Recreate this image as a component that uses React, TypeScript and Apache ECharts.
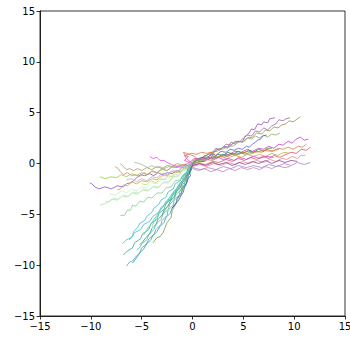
import React, { useEffect, useRef } from "react";
import * as echarts from "echarts";

const xTicks = [-15, -10, -5, 0, 5, 10, 15];
const yTicks = [-15, -10, -5, 0, 5, 10, 15];

// Right-going walks
const r1 = [[0,0.2],[0.4,0.5],[0.8,0.4],[1.2,0.8],[1.6,0.7],[2.0,1.1],[2.3,1.5],[2.7,1.3],[3.1,1.7],[3.5,1.6],[3.8,2.1],[4.2,1.9],[4.5,2.2],[4.9,2.1],[5.2,2.7],[5.5,2.9],[5.8,3.4],[6.1,3.3],[6.4,3.9],[6.8,3.8],[7.0,4.1],[7.4,4.0],[7.6,4.4],[8.1,4.5]];
const r2 = [[0,0],[0.5,0.5],[1.0,0.4],[1.5,0.9],[2.0,1.0],[2.4,1.4],[2.9,1.5],[3.3,1.9],[3.8,1.8],[4.2,2.2],[4.6,2.1],[5.0,2.5],[5.4,2.8],[5.8,2.7],[6.2,3.2],[6.6,3.1],[7.0,3.5],[7.4,3.3],[7.8,3.7],[8.2,3.9],[8.5,4.3],[8.9,4.2],[9.2,4.4],[9.6,4.5]];
const r3 = [[0,0.1],[0.6,0.5],[1.2,0.7],[1.8,1.1],[2.4,1.2],[3.0,1.6],[3.5,1.5],[4.0,2.0],[4.5,2.2],[5.0,2.1],[5.4,2.5],[5.9,2.6],[6.3,3.0],[6.8,2.9],[7.2,3.3],[7.6,3.2],[8.0,3.6],[8.4,3.5],[8.8,3.8],[9.2,3.9],[9.5,4.2],[9.9,4.1],[10.2,4.3],[10.6,4.6]];
const r4 = [[0,0],[0.5,0.4],[1.0,0.5],[1.5,0.9],[2.1,1.1],[2.5,1.4],[3.0,1.4],[3.5,1.7],[4.0,1.7],[4.5,2.1],[5.0,2.2],[5.4,2.5],[5.8,2.4],[6.2,2.7],[6.6,2.5],[7.0,2.8],[7.4,2.6],[7.8,2.9],[8.2,2.8],[8.6,3.0]];
const r5 = [[0,0],[0.4,0.3],[0.9,0.6],[1.4,0.5],[1.9,0.9],[2.3,0.8],[2.8,1.2],[3.3,1.1],[3.7,1.4],[4.1,1.3],[4.5,1.5],[4.9,1.4],[5.3,1.7],[5.6,1.6],[5.9,1.9],[6.2,2.1],[6.4,2.3],[6.7,2.4],[6.9,2.7],[7.3,2.8]];
const r6 = [[0,-0.1],[0.6,0.2],[1.2,0.2],[1.8,0.6],[2.4,0.6],[3.0,0.9],[3.6,0.9],[4.2,1.2],[4.8,1.1],[5.4,1.4],[5.9,1.2],[6.5,1.5],[7.0,1.4],[7.5,1.7],[8.0,1.5],[8.5,1.9],[8.9,1.8],[9.4,2.2],[9.8,2.0],[10.2,2.4],[10.6,2.6],[11.0,2.3],[11.4,2.4]];
const r7 = [[0,0],[0.7,0.1],[1.3,0.4],[2.0,0.3],[2.6,0.7],[3.2,0.6],[3.8,1.0],[4.4,0.9],[5.0,1.1],[5.6,0.9],[6.2,1.2],[6.8,1.1],[7.3,1.4],[7.9,1.2],[8.4,1.5],[8.9,1.4],[9.4,1.6],[9.9,1.4],[10.4,1.7],[10.8,1.6],[11.2,1.9]];
const r8 = [[0,-0.2],[0.7,0.0],[1.3,-0.1],[2.0,0.2],[2.6,0.1],[3.3,0.4],[3.9,0.2],[4.5,0.5],[5.1,0.3],[5.7,0.6],[6.3,0.4],[6.9,0.7],[7.5,0.5],[8.0,0.8],[8.6,0.6],[9.2,0.9],[9.7,1.1],[10.2,1.0],[10.7,1.4],[11.2,1.3],[11.6,1.6]];
const r9 = [[0,-0.3],[0.7,-0.1],[1.4,-0.3],[2.1,0.0],[2.8,-0.2],[3.5,0.1],[4.2,-0.1],[4.9,0.2],[5.6,0.0],[6.3,0.3],[7.0,0.1],[7.6,0.4],[8.2,0.2],[8.8,0.5],[9.3,0.4],[9.8,0.7],[10.3,0.5],[10.7,0.8],[11.1,0.8]];
const r10 = [[0,-0.4],[0.8,-0.6],[1.5,-0.4],[2.3,-0.6],[3.0,-0.3],[3.8,-0.5],[4.5,-0.2],[5.3,-0.4],[6.0,-0.2],[6.8,-0.4],[7.5,-0.1],[8.3,-0.3],[9.0,0.0],[9.7,-0.2],[10.3,0.1],[11.0,-0.1],[11.6,0.1]];
const r11 = [[0,-0.2],[0.7,0.0],[1.3,-0.2],[2.0,0.1],[2.6,-0.1],[3.3,0.1],[3.9,-0.2],[4.6,0.1],[5.2,-0.1],[5.9,0.2],[6.5,0.0],[7.2,0.3],[7.8,0.0],[8.5,0.3],[9.1,0.1],[9.7,0.3],[10.3,0.2]];
const r12 = [[0,0],[0.5,0.3],[1.0,0.2],[1.5,0.6],[2.0,0.5],[2.5,0.9],[3.0,0.8],[3.5,1.1],[4.0,0.9],[4.5,1.2],[5.0,1.0],[5.5,1.3],[6.0,1.1],[6.5,1.4],[7.0,1.2],[7.4,1.5],[7.8,1.5]];
const r13 = [[0,0.3],[0.6,0.4],[1.2,0.3],[1.8,0.6],[2.4,0.5],[3.0,0.8],[3.6,0.6],[4.2,0.8],[4.8,0.6],[5.4,0.9],[6.0,0.7],[6.6,0.9],[7.2,0.7],[7.8,1.0],[8.4,0.8],[9.0,1.1],[9.5,1.0]];
const r14 = [[0,-0.5],[0.6,-0.7],[1.2,-0.5],[1.8,-0.8],[2.4,-0.6],[3.0,-0.8],[3.6,-0.5],[4.2,-0.7],[4.8,-0.4],[5.4,-0.6],[6.0,-0.4],[6.6,-0.6],[7.2,-0.3],[7.8,-0.5],[8.4,-0.2],[9.0,-0.4],[9.6,-0.3]];
const r15 = [[0.5,0.3],[0.2,0.7],[-0.3,0.9],[-0.9,1.1],[-0.7,0.8],[-0.1,1.0],[0.4,0.9],[0.9,1.1],[1.4,1.0],[1.9,1.1],[2.2,0.9],[1.8,0.7],[2.3,0.6],[2.8,0.7],[3.4,0.8],[4.0,0.9],[4.7,1.0],[5.5,1.2],[6.2,1.1],[7.0,1.3],[7.7,1.2],[8.5,1.4]];
const r16 = [[0,0],[0.4,0.3],[0.8,0.2],[1.2,0.5],[1.6,0.4],[2.1,0.7],[2.5,0.6],[3.0,0.9],[3.4,0.7],[3.9,0.9],[4.3,0.8],[4.8,1.0],[5.2,0.9],[5.6,1.1],[6.0,1.0]];
const r17 = [[0,0],[-0.5,0.4],[-0.8,0.8],[-0.4,0.7],[-0.8,0.3],[-0.3,0.1],[0.2,0.5],[0.8,0.4],[1.5,0.6],[2.0,0.4],[2.5,0.6],[3.0,0.4],[3.5,0.5],[4.1,0.3],[4.6,0.6],[5.3,0.4],[6.0,0.7],[6.6,0.5],[7.2,0.7],[8.0,0.6]];

// Left, shallow walks
const l1 = [[0,-0.3],[-0.4,-0.5],[-0.8,-0.4],[-1.2,-0.8],[-1.6,-0.7],[-2.0,-1.0],[-2.5,-0.9],[-3.0,-1.1],[-3.4,-0.9],[-3.8,-1.2],[-4.2,-1.0],[-4.7,-1.2],[-5.1,-1.1],[-5.5,-1.4],[-5.8,-1.7],[-6.1,-1.9],[-6.5,-2.0],[-6.8,-2.3],[-7.4,-2.2],[-8.0,-2.5],[-8.6,-2.3],[-9.2,-2.5],[-9.6,-2.3],[-9.9,-2.0],[-10.1,-1.9]];
const l2 = [[0,0],[-0.5,-0.2],[-1.0,-0.1],[-1.5,-0.4],[-2.0,-0.3],[-2.5,-0.7],[-3.0,-0.6],[-3.5,-0.9],[-4.0,-0.8],[-4.5,-1.1],[-5.0,-0.9],[-5.5,-1.2],[-6.0,-1.0],[-6.5,-1.3],[-7.0,-1.1],[-7.5,-1.4],[-8.0,-1.3],[-8.6,-1.5],[-9.1,-1.3]];
const l3 = [[0,0],[-0.5,-0.3],[-1.0,-0.1],[-1.5,-0.4],[-2.0,-0.3],[-2.5,-0.7],[-3.0,-0.5],[-3.5,-0.9],[-4.0,-0.7],[-4.4,-1.1],[-4.8,-0.9],[-5.2,-1.3],[-5.6,-1.1],[-6.0,-1.2],[-6.4,-0.9],[-6.8,-1.1],[-7.1,-0.8],[-7.3,-0.5],[-7.6,-0.3]];
const l4 = [[0,0.1],[-0.5,0.0],[-1.0,-0.2],[-1.5,0.0],[-2.0,-0.3],[-2.5,-0.2],[-3.0,-0.5],[-3.5,-0.3],[-4.0,-0.6],[-4.5,-0.4],[-5.0,-0.7],[-5.4,-0.5],[-5.8,-0.7],[-6.2,-0.5],[-6.5,-0.6],[-6.8,-0.3],[-7.1,0.0]];
const l5 = [[0,0],[-0.5,-0.2],[-0.9,-0.4],[-1.4,-0.2],[-1.8,-0.4],[-2.3,-0.3],[-2.8,-0.5],[-3.2,-0.3],[-3.6,-0.4],[-4.0,-0.2],[-4.4,-0.4],[-4.8,-0.2],[-5.2,0.0],[-5.7,0.1]];
const l6 = [[0,0],[-0.4,-0.2],[-0.7,-0.1],[-1.1,-0.4],[-1.4,-0.3],[-1.8,-0.2],[-2.1,-0.1],[-2.5,0.1],[-2.8,0.3],[-3.2,0.3],[-3.5,0.6],[-3.9,0.5],[-4.2,0.7]];
const l7 = [[0,-0.2],[-0.5,-0.5],[-1.0,-0.4],[-1.5,-0.9],[-2.0,-0.8],[-2.5,-1.2],[-3.0,-1.2],[-3.5,-1.6],[-4.0,-1.5],[-4.5,-1.8],[-5.0,-1.7],[-5.5,-2.0],[-6.0,-1.8],[-6.4,-2.2],[-6.8,-2.1],[-7.1,-2.5],[-7.4,-2.6]];
const l8 = [[0,0],[-0.4,-0.5],[-0.9,-0.6],[-1.4,-1.2],[-1.9,-1.3],[-2.4,-1.9],[-2.9,-1.9],[-3.4,-2.4],[-3.9,-2.3],[-4.4,-2.7],[-4.9,-2.6],[-5.4,-3.0],[-5.9,-2.9],[-6.4,-3.3],[-6.9,-3.2],[-7.4,-3.6],[-7.9,-3.5],[-8.5,-3.9],[-9.1,-4.1]];
const l9 = [[0,-0.2],[-0.5,-0.6],[-0.9,-0.7],[-1.4,-1.3],[-1.8,-1.3],[-2.3,-1.8],[-2.8,-1.8],[-3.3,-2.3],[-3.8,-2.2],[-4.3,-2.6],[-4.8,-2.5],[-5.3,-2.9],[-5.8,-2.8],[-6.3,-3.2],[-6.8,-3.1],[-7.3,-3.5],[-7.8,-3.4],[-8.2,-3.8],[-8.6,-3.7]];
const l10 = [[0,-0.3],[-0.4,-0.8],[-0.8,-1.0],[-1.2,-1.6],[-1.7,-1.7],[-2.1,-2.3],[-2.6,-2.4],[-3.0,-2.9],[-3.5,-2.9],[-4.0,-3.4],[-4.4,-3.3],[-4.8,-3.8],[-5.2,-3.7],[-5.6,-4.2],[-5.9,-4.1],[-6.1,-4.6],[-6.4,-4.6],[-6.7,-5.1],[-7.1,-5.1]];
const l11 = [[0,-0.1],[-0.5,-0.5],[-1.0,-0.6],[-1.5,-1.1],[-2.0,-1.1],[-2.5,-1.6],[-3.0,-1.5],[-3.5,-2.0],[-4.0,-1.9],[-4.5,-2.4],[-5.0,-2.3],[-5.5,-2.7],[-6.0,-2.5],[-6.5,-2.9],[-7.0,-2.7],[-7.6,-3.1],[-8.2,-3.0]];
const l12 = [[0,0],[-0.5,-0.4],[-1.0,-0.3],[-1.5,-0.8],[-2.0,-0.7],[-2.5,-1.1],[-3.0,-1.0],[-3.5,-1.4],[-4.0,-1.3],[-4.5,-1.7],[-5.0,-1.5],[-5.5,-1.8],[-6.0,-1.5],[-6.5,-1.6]];
const l13 = [[0,-0.1],[-0.4,-0.5],[-0.8,-0.4],[-1.2,-0.9],[-1.6,-0.8],[-2.0,-1.3],[-2.4,-1.2],[-2.8,-1.6],[-3.2,-1.5],[-3.6,-1.9],[-4.1,-1.7],[-4.5,-2.1],[-5.0,-2.0]];

// Steep, down-left walks
const s1 = [[0,0],[-0.4,-0.5],[-0.3,-1.0],[-0.7,-1.5],[-0.8,-2.1],[-1.2,-2.6],[-1.3,-3.1],[-1.8,-3.6],[-1.9,-4.1],[-2.4,-4.6],[-2.5,-5.1],[-3.0,-5.6],[-3.1,-6.0],[-3.6,-6.5],[-3.8,-7.0],[-4.3,-7.4],[-4.5,-7.9],[-5.0,-8.3],[-5.2,-8.8],[-5.6,-9.2],[-5.9,-9.6],[-6.2,-9.7],[-6.5,-10.1]];
const s2 = [[0,-0.2],[-0.5,-0.6],[-0.5,-1.1],[-1.0,-1.6],[-1.1,-2.1],[-1.6,-2.5],[-1.8,-3.0],[-2.3,-3.4],[-2.5,-3.9],[-3.1,-4.3],[-3.3,-4.8],[-3.9,-5.2],[-4.2,-5.7],[-4.8,-6.0],[-5.1,-6.5],[-5.7,-6.8],[-6.0,-7.3],[-6.5,-7.5],[-6.9,-7.9]];
const s3 = [[0,0],[-0.2,-0.5],[-0.6,-0.9],[-0.8,-1.5],[-1.2,-1.9],[-1.4,-2.5],[-1.9,-2.9],[-2.1,-3.5],[-2.6,-3.9],[-2.8,-4.5],[-3.3,-4.9],[-3.5,-5.5],[-4.1,-5.9],[-4.3,-6.5],[-4.9,-6.9],[-5.1,-7.4],[-5.7,-7.8],[-5.9,-8.3],[-6.4,-8.6],[-6.8,-9.0]];
const s4 = [[0,-0.1],[-0.1,-0.6],[-0.5,-1.1],[-0.6,-1.6],[-1.0,-2.1],[-1.1,-2.6],[-1.6,-3.0],[-1.8,-3.5],[-2.2,-4.0],[-2.4,-4.5],[-2.9,-5.0],[-3.1,-5.5],[-3.6,-6.0],[-3.8,-6.5],[-4.3,-7.0],[-4.5,-7.5],[-5.0,-7.9],[-5.2,-8.3],[-5.5,-8.5]];
const s5 = [[0,0],[-0.1,-0.6],[-0.4,-1.2],[-0.5,-1.8],[-0.9,-2.4],[-1.1,-2.9],[-1.5,-3.4],[-1.6,-3.9],[-2.0,-4.4],[-2.2,-4.9],[-2.6,-5.3],[-2.8,-5.8],[-3.2,-6.2],[-3.5,-6.7],[-3.9,-7.1],[-4.1,-7.5],[-4.5,-7.9],[-4.8,-8.4],[-5.1,-8.7],[-5.4,-9.1],[-5.6,-9.4],[-5.9,-9.8]];
const s6 = [[0,-0.2],[-0.2,-0.8],[-0.5,-1.2],[-0.6,-1.9],[-1.0,-2.4],[-1.1,-3.0],[-1.5,-3.5],[-1.7,-4.1],[-2.0,-4.6],[-2.1,-5.3],[-2.5,-5.8],[-2.7,-6.3],[-2.9,-6.8],[-3.2,-7.2],[-3.5,-7.3],[-3.9,-7.8]];
const s7 = [[0,0],[-0.1,-0.4],[-0.3,-0.8],[-0.2,-1.2],[-0.5,-1.6],[-0.6,-2.0],[-0.8,-2.4],[-0.9,-2.8],[-1.1,-3.1],[-1.3,-3.5],[-1.5,-3.8],[-1.8,-4.1],[-2.0,-4.4]];
const s8 = [[0,0],[-0.3,-0.4],[-0.5,-0.9],[-0.9,-1.3],[-1.0,-1.8],[-1.4,-2.2],[-1.6,-2.7],[-2.0,-3.1],[-2.2,-3.5],[-2.7,-3.9],[-2.9,-4.3],[-3.3,-4.7],[-3.5,-5.1],[-3.8,-5.5],[-4.0,-5.9],[-4.3,-6.2],[-4.5,-6.5],[-4.8,-7.0]];
const s9 = [[0,-0.1],[-0.4,-0.4],[-0.5,-0.9],[-0.9,-1.2],[-1.0,-1.7],[-1.4,-2.1],[-1.6,-2.5],[-2.0,-2.9],[-2.2,-3.3],[-2.6,-3.7],[-2.8,-4.1],[-3.1,-4.5],[-3.3,-4.9],[-3.5,-5.3],[-3.7,-5.6],[-4.0,-6.2]];
const s10 = [[0,0],[-0.4,-0.4],[-0.6,-0.9],[-1.0,-1.2],[-1.2,-1.7],[-1.7,-2.0],[-1.9,-2.5],[-2.4,-2.8],[-2.6,-3.3],[-3.1,-3.6],[-3.3,-4.0],[-3.8,-4.4],[-4.0,-4.8],[-4.5,-5.2],[-4.7,-5.6],[-5.2,-5.9],[-5.4,-6.3],[-5.8,-6.7],[-5.9,-7.1],[-6.2,-7.5]];
const s11 = [[0,0],[-0.3,-0.4],[-0.4,-0.8],[-0.7,-1.2],[-0.8,-1.6],[-1.1,-2.0],[-1.3,-2.4],[-1.6,-2.8],[-1.8,-3.2],[-2.1,-3.6],[-2.3,-4.0],[-2.6,-4.4],[-2.8,-4.8],[-3.0,-5.2]];
const s12 = [[0,-0.1],[-0.2,-0.6],[-0.5,-1.0],[-0.7,-1.5],[-1.0,-1.9],[-1.2,-2.4],[-1.6,-2.8],[-1.8,-3.3],[-2.2,-3.7],[-2.4,-4.2],[-2.8,-4.6],[-3.0,-5.1],[-3.4,-5.5],[-3.6,-6.0],[-4.0,-6.4],[-4.2,-6.9],[-4.6,-7.3],[-4.9,-7.7],[-5.2,-8.0]];

const walks = [l1, l2, l3, l4, l5, l6, l7, l8, l9, l10, l11, l12, l13,
  s1, s2, s3, s4, s5, s6, s7, s8, s9, s10, s11, s12,
  r1, r2, r3, r4, r5, r6, r7, r8, r9, r10, r11, r12, r13, r14, r15, r16, r17];
const walkColors = [
  "#8855cc", "#99cc44", "#dd8866", "#aa9966", "#99bbaa", "#dd55dd", "#dd9955", "#aaddaa", "#bbeebb", "#88cc88", "#cceecc", "#aabbcc", "#bbdd66",
  "#44aacc", "#55bbbb", "#33aa99", "#66bb88", "#3399aa", "#779944", "#4455dd", "#55ccaa", "#77ccbb", "#44bbcc", "#88ccaa", "#339988",
  "#9955bb", "#aa66aa", "#889944", "#99aa77", "#5566cc", "#bb44cc", "#cc8844", "#dd5566", "#ee8888", "#aa88cc", "#8844aa", "#338833", "#bbaa55", "#bb88bb", "#dd7744", "#66aa66", "#dd44cc"];

const fmt = (v: number) => (v < 0 ? "\u2212" + Math.abs(v) : String(v));

export default function App() {
  const ref = useRef<HTMLDivElement>(null);
  useEffect(() => {
    if (!ref.current) return;
    const chart = echarts.init(ref.current, null, { renderer: "svg" });
    const axisCommon = {
      type: "value" as const,
      min: xTicks[0],
      max: xTicks[xTicks.length - 1],
      interval: 5,
      axisLine: { show: true, onZero: false, lineStyle: { color: "#000", width: 0.8 } },
      axisTick: { show: true, length: 3.5, lineStyle: { color: "#000", width: 0.8 } },
      axisLabel: { color: "#000", fontSize: 10, fontFamily: "DejaVu Sans", margin: 5, formatter: fmt },
      splitLine: { show: false },
    };
    chart.setOption({
      animation: false,
      grid: { left: 40, top: 11, width: 305, height: 305, outerBoundsMode: "none", containLabel: false, show: true, borderColor: "#000", borderWidth: 0.8, backgroundColor: "#fff" },
      xAxis: { ...axisCommon },
      yAxis: { ...axisCommon, min: yTicks[0], max: yTicks[yTicks.length - 1] },
      series: walks.map((w, i) => ({
        type: "line",
        data: w,
        showSymbol: false,
        silent: true,
        lineStyle: { color: walkColors[i], width: 0.9, opacity: 0.9 },
      })),
    });
    return () => chart.dispose();
  }, []);
  return <div ref={ref} style={{ position: "absolute", left: 0, top: 0, width: 350, height: 339 }} />;
}
